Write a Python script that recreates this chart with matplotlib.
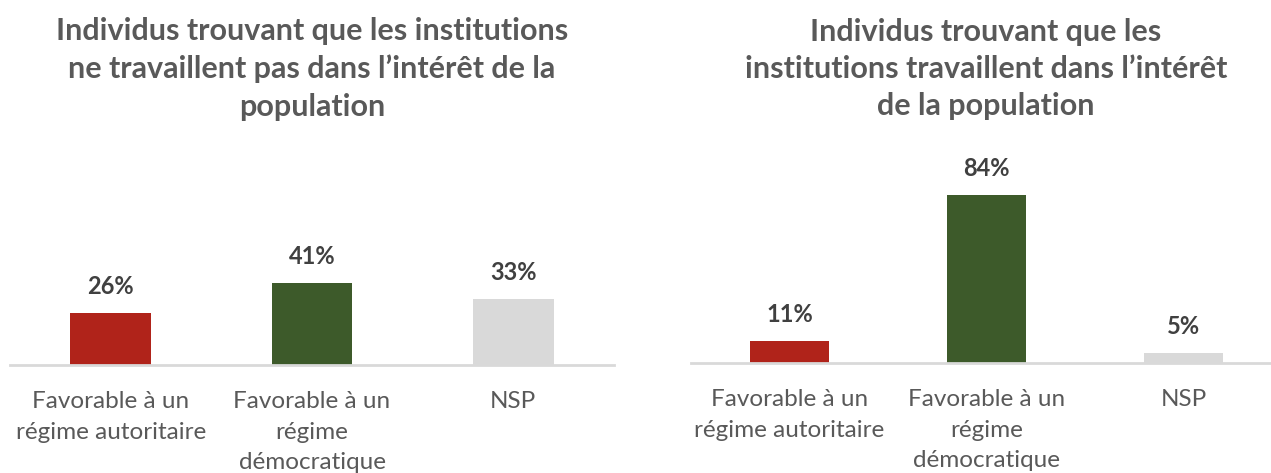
import matplotlib
matplotlib.use("Agg")
import matplotlib.pyplot as plt

plt.rcParams['font.family'] = ['Lato', 'DejaVu Sans']

categories = ["Favorable à un\nrégime autoritaire", "Favorable à un\nrégime\ndémocratique", "NSP"]
left_values = [26, 41, 33]
right_values = [11, 84, 5]
left_title = "Individus trouvant que les institutions\nne travaillent pas dans l\u2019intérêt de la\npopulation"
right_title = "Individus trouvant que les\ninstitutions travaillent dans l\u2019intérêt\nde la population"
bar_colors = ["#b0231a", "#3d5a2a", "#d9d9d9"]

W, H = 1271, 473
fig = plt.figure(figsize=(W / 100, H / 100), dpi=100)

def px_rect(x0, x1, ybase, ytop):
    return [x0 / W, (H - ybase) / H, (x1 - x0) / W, (ybase - ytop) / H]

def draw(ax, values):
    x = list(range(len(values)))
    bars = ax.bar(x, values, width=0.4, color=bar_colors, zorder=2)
    ax.set_xlim(-0.5, 2.5)
    ax.set_ylim(0, 100)
    for s in ["top", "right", "left"]:
        ax.spines[s].set_visible(False)
    ax.spines["bottom"].set_color("#d9d9d9")
    ax.spines["bottom"].set_linewidth(2)
    ax.set_yticks([])
    ax.set_xticks(x)
    ax.set_xticklabels(categories, fontsize=17.5, color="#595959", linespacing=1.55, va="top")
    ax.tick_params(axis="x", length=0, pad=19)
    for b, v in zip(bars, values):
        ax.annotate(f"{v}%", (b.get_x() + b.get_width() / 2, v), xytext=(0, 27),
                    textcoords="offset pixels", ha="center", va="center",
                    fontsize=17, fontweight="bold", color="#404040")

ax1 = fig.add_axes(px_rect(10, 614, 365, 165))
draw(ax1, left_values)
ax2 = fig.add_axes(px_rect(691, 1282, 363, 163))
draw(ax2, right_values)

fig.text(312 / W, 1 - 69 / H, left_title, ha="center", va="center", fontsize=22,
         fontweight="bold", color="#595959", linespacing=1.4)
fig.text(986 / W, 1 - 69 / H, right_title, ha="center", va="center", fontsize=22,
         fontweight="bold", color="#595959", linespacing=1.4)

fig.savefig("out.png", dpi=100)
